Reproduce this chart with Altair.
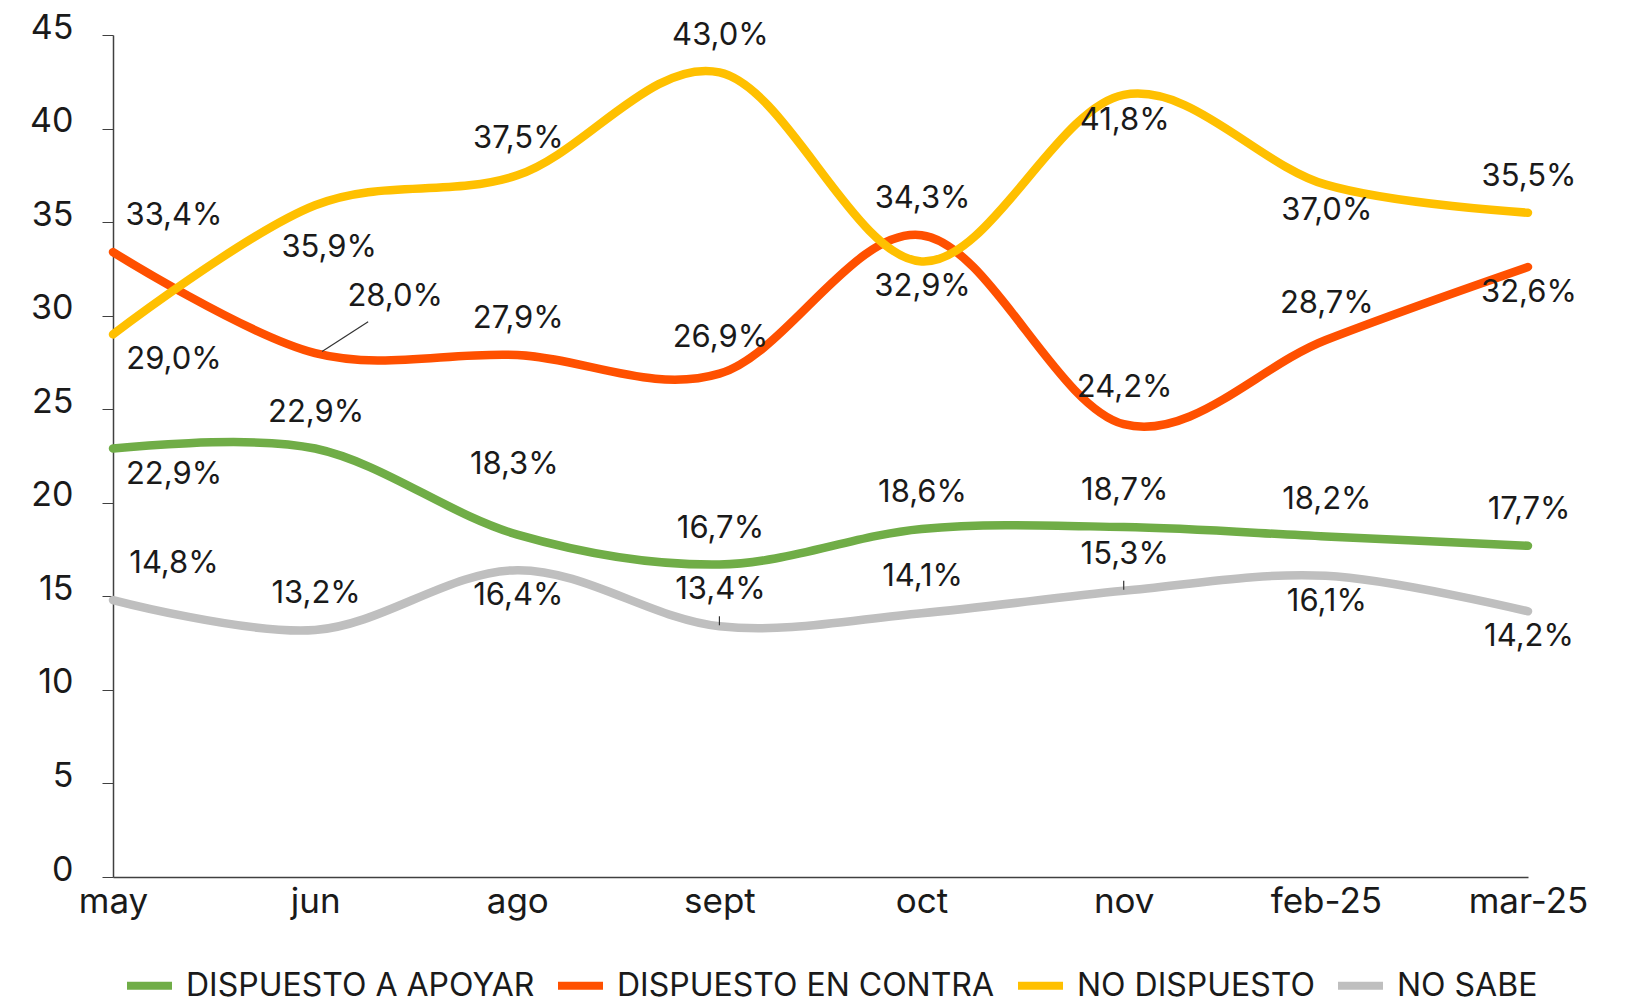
import altair as alt
import pandas as pd

# ---------------- data ----------------
MONTHS = ["may", "jun", "ago", "sept", "oct", "nov", "feb-25", "mar-25"]
SERIES = ["DISPUESTO A APOYAR", "DISPUESTO EN CONTRA", "NO DISPUESTO", "NO SABE"]
APOYAR = [22.9, 22.9, 18.3, 16.7, 18.6, 18.7, 18.2, 17.7]
CONTRA = [33.4, 28.0, 27.9, 26.9, 34.3, 24.2, 28.7, 32.6]
NO_DISPUESTO = [29.0, 35.9, 37.5, 43.0, 32.9, 41.8, 37.0, 35.5]
NO_SABE = [14.8, 13.2, 16.4, 13.4, 14.1, 15.3, 16.1, 14.2]
Y_TICKS = [0, 5, 10, 15, 20, 25, 30, 35, 40, 45]

# ---------------- label placement (layout, not data) ----------------
LABEL_SIDE = {
    "DISPUESTO A APOYAR": ["below_first", "above", "above_far", "above", "above", "above", "above", "above"],
    "DISPUESTO EN CONTRA": ["above_first", "leader", "above", "above", "above", "above", "above", "below"],
    "NO DISPUESTO": ["below_first", "below_far", "above", "above", "below", "below", "below", "above"],
    "NO SABE": ["above_first", "above", "below", "above", "above", "above", "below", "below"],
}
OFFSETS = {
    "above": (1, -36),
    "below": (1, 26),
    "above_first": (61, -36),
    "below_first": (61, 26),
    "below_far": (14, 43),
    "leader": (80, -56),
    "above_far": (-3, -70),
}
LEADERS = [("DISPUESTO EN CONTRA", "jun", "diag"),
           ("NO SABE", "sept", "tick"),
           ("NO SABE", "nov", "tick")]
LEADER_SHAPES = {
    "diag": ("M 0.13 -0.03 L 1 -0.59", 11236),
    "tick": ("M 0 -0.1 L 0 -1", 400),
}

COLORS = ["#70AD47", "#FF5000", "#FFC000", "#BFBFBF"]
FONT = "Inter"
TEXT = "#1a1a1a"
FS_LABEL = 31
FS_X = 35
FS_Y = 34
FS_LEG = 32

values = {
    "DISPUESTO A APOYAR": APOYAR,
    "DISPUESTO EN CONTRA": CONTRA,
    "NO DISPUESTO": NO_DISPUESTO,
    "NO SABE": NO_SABE,
}
rows = []
for s in SERIES:
    for i, m in enumerate(MONTHS):
        v = values[s][i]
        rows.append({
            "serie": s, "mes": m, "valor": v,
            "etiqueta": f"{v:.1f}".replace(".", ",") + "%",
            "pos": LABEL_SIDE[s][i],
        })
df = pd.DataFrame(rows)

lead_rows = []
for s, m, kind in LEADERS:
    v = values[s][MONTHS.index(m)]
    lead_rows.append({"serie": s, "mes": m, "valor": v, "kind": kind})
df_lead = pd.DataFrame(lead_rows)

x_enc = alt.X(
    "mes:N", sort=MONTHS,
    scale=alt.Scale(type="point", padding=0),
    axis=alt.Axis(title=None, labelAngle=0, ticks=False, domain=True,
                  domainColor="#404040", domainWidth=1.5,
                  labelPadding=7, labelFontSize=FS_X, labelFont=FONT,
                  labelColor=TEXT),
)
y_enc = alt.Y(
    "valor:Q",
    scale=alt.Scale(domain=[0, 45], nice=False),
    axis=alt.Axis(title=None, values=Y_TICKS, grid=False, tickSize=11,
                  tickColor="#404040", domainColor="#404040", domainWidth=1.5,
                  labelPadding=29, labelOffset=-7, labelFontSize=FS_Y,
                  labelFont=FONT, labelColor=TEXT),
)

base = alt.Chart(df).encode(x=x_enc, y=y_enc)

lines = base.mark_line(interpolate="cardinal", strokeWidth=8.5, strokeCap="round").encode(
    color=alt.Color(
        "serie:N",
        scale=alt.Scale(domain=SERIES, range=COLORS),
        legend=alt.Legend(
            title=None, orient="none", legendX=10, legendY=924,
            direction="horizontal", symbolType="stroke",
            symbolStrokeWidth=8, symbolSize=2025,
            labelFontSize=FS_LEG, labelFont=FONT, labelColor=TEXT,
            labelLimit=0, labelOffset=10, columnPadding=7, padding=0,
        ),
    ),
)

layers = [lines]
for code, (dx, dy) in OFFSETS.items():
    layers.append(
        base.mark_text(dx=dx, dy=dy, fontSize=FS_LABEL, font=FONT, color=TEXT,
                       baseline="middle", align="center")
        .encode(text="etiqueta:N")
        .transform_filter(alt.datum.pos == code)
    )

for kind, (path, size) in LEADER_SHAPES.items():
    layers.append(
        alt.Chart(df_lead).mark_point(shape=path, size=size, filled=False,
                                      stroke="#333333", strokeWidth=1.2, opacity=1)
        .encode(x=x_enc, y=y_enc)
        .transform_filter(alt.datum.kind == kind)
    )

chart = alt.layer(*layers).properties(
    width=1415, height=842,
    autosize=alt.AutoSizeParams(type="none"),
    padding={"left": 105, "top": 27, "right": 90, "bottom": 128},
).configure(background="white").configure_view(stroke=None)

chart.save("out.html", embed_options={"renderer": "svg", "actions": False})
